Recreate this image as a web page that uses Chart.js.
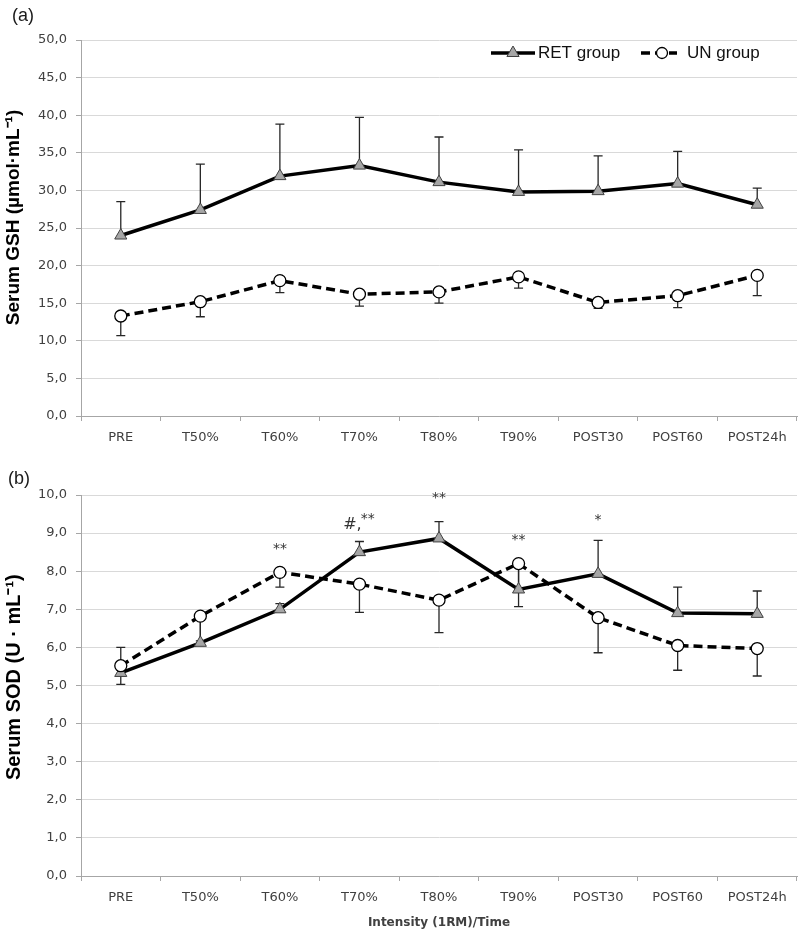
<!DOCTYPE html>
<html>
<head>
<meta charset="utf-8">
<script src="https://cdn.jsdelivr.net/npm/chart.js@4.4.1/dist/chart.umd.min.js"></script>
<style>
  body { margin: 0; background: #fff; }
  canvas { display: block; }
</style>
</head>
<body>
<canvas id="gshChart" width="799" height="455"></canvas>
<canvas id="sodChart" width="799" height="478"></canvas>
<script>
const labels = ['PRE', 'T50%', 'T60%', 'T70%', 'T80%', 'T90%', 'POST30', 'POST60', 'POST24h'];

// (a) Serum GSH
const gshRet = [24.0, 27.4, 31.9, 33.3, 31.1, 29.8, 29.9, 30.9, 28.1];
const gshRetSd = [4.5, 6.1, 6.9, 6.4, 6.0, 5.6, 4.7, 4.3, 2.2];
const gshUn = [13.3, 15.2, 18.0, 16.2, 16.5, 18.5, 15.1, 16.0, 18.7];
const gshUnSd = [2.6, 2.0, 1.6, 1.6, 1.5, 1.5, 0.8, 1.6, 2.7];

// (b) Serum SOD
const sodRet = [5.33, 6.12, 7.0, 8.5, 8.86, 7.52, 7.93, 6.9, 6.88];
const sodRetSd = [0.67, 0.7, 0.15, 0.28, 0.44, 0.62, 0.88, 0.68, 0.6];
const sodUn = [5.52, 6.82, 7.97, 7.66, 7.24, 8.2, 6.78, 6.05, 5.97];
const sodUnSd = [0.49, 0.65, 0.39, 0.74, 0.85, 1.13, 0.92, 0.65, 0.72];

// significance marks on (b)
const sodMarkIdx = [2, 3, 4, 5, 6];
const sodMarkHash = ['', '#,', '', '', ''];
const sodMarkStars = ['**', '**', '**', '**', '*'];
const sodMarkY = [8.66, 9.35, 10.0, 8.9, 9.42];

const fmt = v => v.toFixed(1).replace('.', ',');

const errorBars = {
  id: 'errorBars',
  beforeDatasetsDraw(chart) {
    const ctx = chart.ctx;
    const y = chart.scales.y;
    chart.data.datasets.forEach((ds, di) => {
      const meta = chart.getDatasetMeta(di);
      ctx.save();
      ctx.strokeStyle = '#262626';
      ctx.lineWidth = 1.3;
      meta.data.forEach((pt, i) => {
        const end = y.getPixelForValue(ds.data[i] + ds.errDir * ds.sd[i]);
        ctx.beginPath();
        ctx.moveTo(pt.x, pt.y);
        ctx.lineTo(pt.x, end);
        ctx.moveTo(pt.x - 4.5, end);
        ctx.lineTo(pt.x + 4.5, end);
        ctx.stroke();
      });
      ctx.restore();
    });
  }
};

const panelLabel = {
  id: 'panelLabel',
  afterDraw(chart, args, opts) {
    const ctx = chart.ctx;
    ctx.save();
    ctx.font = '18px "Liberation Sans", Arial, sans-serif';
    ctx.fillStyle = '#1a1a1a';
    ctx.textBaseline = 'middle';
    ctx.fillText(opts.text, opts.x, opts.y);
    ctx.restore();
  }
};

const lineLegend = {
  id: 'lineLegend',
  afterDraw(chart, args, opts) {
    if (!opts.show) return;
    const ctx = chart.ctx;
    const y = 53;
    ctx.save();
    // RET
    ctx.strokeStyle = '#000';
    ctx.lineWidth = 3.5;
    ctx.beginPath(); ctx.moveTo(491, y); ctx.lineTo(535, y); ctx.stroke();
    ctx.fillStyle = '#a6a6a6';
    ctx.strokeStyle = '#404040';
    ctx.lineWidth = 1;
    ctx.beginPath();
    ctx.moveTo(513, y - 7); ctx.lineTo(519.1, y + 3.5); ctx.lineTo(506.9, y + 3.5); ctx.closePath();
    ctx.fill(); ctx.stroke();
    // UN
    ctx.strokeStyle = '#000';
    ctx.lineWidth = 3.5;
    ctx.setLineDash([9, 5]);
    ctx.beginPath(); ctx.moveTo(641, y); ctx.lineTo(677, y); ctx.stroke();
    ctx.setLineDash([]);
    ctx.fillStyle = '#fff';
    ctx.lineWidth = 1.3;
    ctx.beginPath(); ctx.arc(662, y, 5.5, 0, Math.PI * 2); ctx.fill(); ctx.stroke();
    ctx.fillStyle = '#111';
    ctx.font = '17px "Liberation Sans", Arial, sans-serif';
    ctx.textBaseline = 'middle';
    ctx.fillText('RET group', 538, y);
    ctx.fillText('UN group', 687, y);
    ctx.restore();
  }
};

const sigMarks = {
  id: 'sigMarks',
  afterDatasetsDraw(chart, args, opts) {
    if (!opts.show) return;
    const ctx = chart.ctx;
    const x = chart.scales.x, y = chart.scales.y;
    ctx.save();
    ctx.fillStyle = '#333';
    ctx.textBaseline = 'middle';
    sodMarkIdx.forEach((idx, k) => {
      const px = x.getPixelForValue(idx);
      const py = y.getPixelForValue(sodMarkY[k]) + 3;
      ctx.font = '14px "DejaVu Sans", sans-serif';
      const starW = ctx.measureText(sodMarkStars[k]).width;
      ctx.font = '16px "DejaVu Sans", sans-serif';
      const hashW = sodMarkHash[k] ? ctx.measureText(sodMarkHash[k]).width : 0;
      let sx = px - (starW + hashW) / 2;
      if (hashW) {
        ctx.textAlign = 'left';
        ctx.fillText(sodMarkHash[k], sx, py + 2);
        sx += hashW - 1;
      }
      ctx.font = '14px "DejaVu Sans", sans-serif';
      ctx.textAlign = 'left';
      ctx.fillText(sodMarkStars[k], sx, py - (hashW ? 3 : 0));
    });
    ctx.restore();
  }
};

function makeDatasets(ret, retSd, un, unSd) {
  return [
    {
      label: 'RET group', data: ret, sd: retSd, errDir: 1, order: 2,
      borderColor: '#000', borderWidth: 3.5, tension: 0,
      pointStyle: 'triangle', pointRadius: 7, pointBackgroundColor: '#a6a6a6',
      pointBorderColor: '#404040', pointBorderWidth: 1
    },
    {
      label: 'UN group', data: un, sd: unSd, errDir: -1, order: 1,
      borderColor: '#000', borderWidth: 3.5, borderDash: [9, 5], tension: 0,
      pointStyle: 'circle', pointRadius: 6, pointBackgroundColor: '#fff',
      pointBorderColor: '#000', pointBorderWidth: 1.3
    }
  ];
}

function makeOptions(yMax, step, yTitle, yTitleSize, xTitle, xHeight, panel) {
  return {
    responsive: false,
    animation: false,
    layout: { autoPadding: false, padding: { top: 40, right: 2, left: 0, bottom: 0 } },
    plugins: {
      legend: { display: false },
      tooltip: { enabled: false },
      panelLabel: panel,
      lineLegend: { show: panel.text === '(a)' },
      sigMarks: { show: panel.text === '(b)' }
    },
    scales: {
      x: {
        offset: true,
        grid: { offset: true, drawOnChartArea: false, drawTicks: true, tickLength: 5, tickColor: '#a6a6a6' },
        border: { color: '#a6a6a6', width: 1 },
        ticks: { color: '#404040', font: { family: 'DejaVu Sans', size: 13 }, padding: 9, maxRotation: 0, autoSkip: false },
        title: {
          display: !!xTitle, text: xTitle, color: '#404040',
          font: { family: 'DejaVu Sans', size: 12, weight: 'bold' },
          padding: { top: 0, bottom: 3 }
        },
        afterFit(scale) {
          scale.height = xHeight;
          scale.paddingLeft = 0;
          scale.paddingRight = 0;
        }
      },
      y: {
        min: 0, max: yMax,
        grid: { color: '#d9d9d9', lineWidth: 1, drawTicks: true, tickLength: 5, tickColor: '#a6a6a6' },
        border: { color: '#a6a6a6', width: 1 },
        ticks: { stepSize: step, color: '#404040', font: { family: 'DejaVu Sans', size: 13 }, padding: 9, callback: v => fmt(v) },
        title: {
          display: true, text: yTitle, color: '#000',
          font: { family: 'Liberation Sans', size: yTitleSize, weight: 'bold' },
          padding: { top: 2, bottom: 0 }
        },
        afterFit(scale) {
          scale.width = 81;
          scale.paddingTop = 0;
          scale.paddingBottom = 0;
        }
      }
    }
  };
}

new Chart(document.getElementById('gshChart'), {
  type: 'line',
  data: { labels: labels, datasets: makeDatasets(gshRet, gshRetSd, gshUn, gshUnSd) },
  options: makeOptions(50, 5, '    Serum GSH (µmol·mL⁻¹)', 19, '', 39, { text: '(a)', x: 12, y: 16 }),
  plugins: [errorBars, panelLabel, lineLegend, sigMarks]
});

new Chart(document.getElementById('sodChart'), {
  type: 'line',
  data: { labels: labels, datasets: makeDatasets(sodRet, sodRetSd, sodUn, sodUnSd) },
  options: makeOptions(10, 1, '   Serum SOD (U · mL⁻¹)', 20, 'Intensity (1RM)/Time', 57, { text: '(b)', x: 8, y: 24 }),
  plugins: [errorBars, panelLabel, lineLegend, sigMarks]
});
</script>
</body>
</html>
